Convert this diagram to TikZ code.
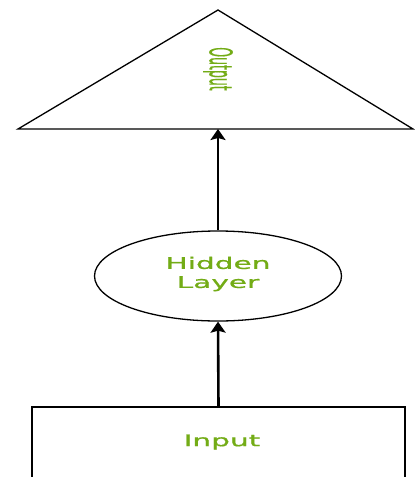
\documentclass[tikz,border=0pt]{standalone}
\usepackage{fontspec}
\setmainfont{DejaVu Sans}
\newfontfamily\lblfont[FakeBold=0.7]{DejaVu Sans}
\usetikzlibrary{shapes.geometric,arrows.meta}
\definecolor{lbl}{RGB}{115,172,22}
\tikzset{
  shapebox/.style={draw=black, line width=1.3pt, fill=white},
  conn/.style={line width=2.6pt, -{Stealth[length=11pt,width=15pt,inset=2pt]}},
  lbltext/.style={text=lbl, font=\lblfont\fontsize{16}{19}\selectfont, align=center, inner sep=0pt}
}
\begin{document}
\begin{tikzpicture}[x=1pt,y=-1pt]
  \useasboundingbox (0,0) rectangle (415,477);
  \clip (0,0) rectangle (415,477);
  \fill[white] (0,0) rectangle (415,477);
  % output triangle
  \coordinate (apex) at (218,10);
  \coordinate (bl) at (18,129);
  \coordinate (br) at (413,129);
  \coordinate (outbase) at (218,129);
  \draw[shapebox, line join=miter] (apex) -- (br) -- (bl) -- cycle;
  \node[lbltext, rotate=-90, font=\lblfont\fontsize{12.5}{14}\selectfont] (outl) at (218,69) {\scalebox{1}[2.5]{Output}};
  % hidden layer
  \node[shapebox, ellipse, minimum width=247pt, minimum height=90pt, inner sep=0pt] (hid) at (218,276) {};
  \node[lbltext] (hidl) at (218,274) {\scalebox{1.85}[1]{Hidden}\\\scalebox{1.85}[1]{Layer}};
  % input box
  \node[shapebox, rectangle, line width=1.8pt, minimum width=373pt, minimum height=120pt, inner sep=0pt] (inp) at (218.5,467) {};
  \node[lbltext] (inpl) at (222,442) {\scalebox{1.85}[1]{Input}};
  % connectors
  \draw[conn] (inp.north) -- (hid.south);
  \draw[conn] (hid.north) -- (outbase);
\end{tikzpicture}
\end{document}
